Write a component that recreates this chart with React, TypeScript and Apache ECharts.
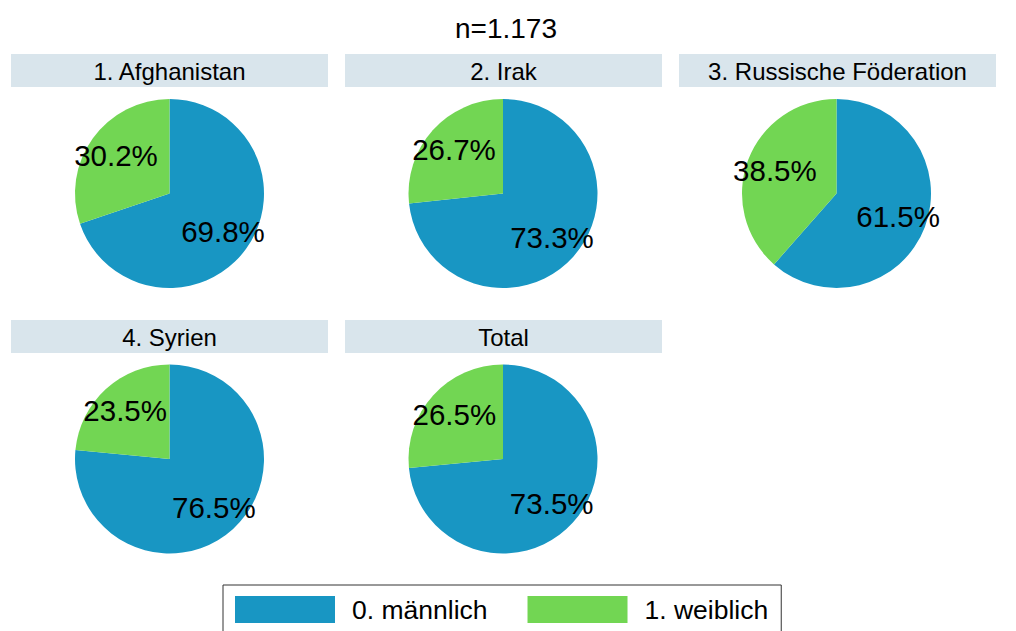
import React, { useEffect, useRef } from "react";
import * as echarts from "echarts";

const panelTitles = ["1. Afghanistan", "2. Irak", "3. Russische Föderation", "4. Syrien", "Total"];
const seriesNames = ["0. männlich", "1. weiblich"];
const maleShare = [69.8, 73.3, 61.5, 76.5, 73.5];
const femaleShare = [30.2, 26.7, 38.5, 23.5, 26.5];
const chartTitle = "n=1.173";

const BLUE = "#1896c3";
const GREEN = "#72d653";
const HEADER_BG = "#d9e5ec";
const FONT = "'Liberation Sans', Arial, sans-serif";

const colX = [169.5, 503, 836.5];
const rowPieY = [193.5, 459];
const rowHeaderY = [54, 320];
const headerLeft = [11, 345, 679];
const headerW = 317;
const headerH = 33;
const R = 94.5;

export default function App() {
  const ref = useRef<HTMLDivElement>(null);
  useEffect(() => {
    if (!ref.current) return;
    const chart = echarts.init(ref.current, null, { renderer: "svg" });
    const series: any[] = [];
    const graphics: any[] = [];
    panelTitles.forEach((t, i) => {
      const col = i % 3;
      const row = Math.floor(i / 3);
      const data = [
        { name: seriesNames[0], value: maleShare[i], itemStyle: { color: BLUE } },
        { name: seriesNames[1], value: femaleShare[i], itemStyle: { color: GREEN } },
      ];
      series.push({
        type: "pie",
        name: t,
        center: [colX[col], rowPieY[row]],
        radius: [0, R],
        startAngle: 90,
        clockwise: true,
        silent: true,
        label: { show: false },
        labelLine: { show: false },
        itemStyle: { borderWidth: 0 },
        emphasis: { disabled: true },
        data,
      });
      series.push({
        type: "pie",
        name: t + " labels",
        center: [colX[col], rowPieY[row]],
        radius: [R * 0.33, R],
        startAngle: 90,
        clockwise: true,
        silent: true,
        z: 5,
        itemStyle: { color: "rgba(0,0,0,0)", borderWidth: 0 },
        label: {
          show: true,
          position: "inside",
          formatter: (p: any) => p.value.toFixed(1) + "%",
          color: "#000",
          fontSize: 29.5,
          fontFamily: FONT,
          textBorderWidth: 0,
        },
        labelLine: { show: false },
        emphasis: { disabled: true },
        data: data.map((d) => ({ name: d.name, value: d.value, itemStyle: { color: "rgba(0,0,0,0)" } })),
      });
      graphics.push({
        type: "rect",
        shape: { x: headerLeft[col], y: rowHeaderY[row], width: headerW, height: headerH },
        style: { fill: HEADER_BG },
        silent: true,
      });
      graphics.push({
        type: "text",
        x: headerLeft[col] + headerW / 2,
        y: rowHeaderY[row] + headerH / 2 + 1,
        style: {
          text: t,
          fill: "#000",
          font: `24px ${FONT}`,
          align: "center",
          verticalAlign: "middle",
        },
        silent: true,
      });
    });

    chart.setOption({
      animation: false,
      backgroundColor: "#fff",
      title: {
        text: chartTitle,
        left: 501,
        top: 9,
        textAlign: "center",
        textStyle: { fontSize: 28, fontWeight: "normal", color: "#000", fontFamily: FONT },
      },
      legend: {
        data: seriesNames,
        left: 223,
        top: 585,
        orient: "horizontal",
        icon: "rect",
        itemWidth: 100,
        itemHeight: 27,
        itemGap: 40,
        padding: [11, 13, 12, 12],
        borderColor: "#333",
        borderWidth: 1,
        selectedMode: false,
        textStyle: { fontSize: 26.5, color: "#000", fontFamily: FONT, padding: [0, 0, 0, 12] },
      },
      graphic: graphics,
      series,
    });
    return () => chart.dispose();
  }, []);
  return (
    <div
      ref={ref}
      style={{ position: "fixed", left: 0, top: 0, width: 1016, height: 631, background: "#fff" }}
    />
  );
}
